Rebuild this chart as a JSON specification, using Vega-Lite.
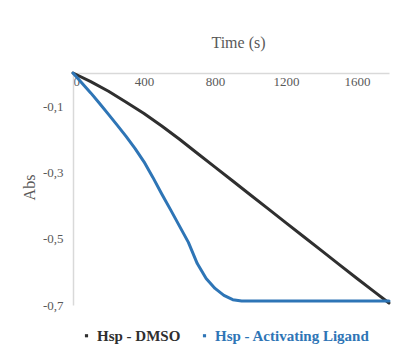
{
  "$schema": "https://vega.github.io/schema/vega-lite/v6.json",
  "width": 316,
  "height": 232,
  "autosize": "none",
  "padding": {"left": 73, "top": 73, "right": 21, "bottom": 53},
  "background": "white",
  "config": {"view": {"stroke": null}, "font": "Liberation Serif"},
  "data": {"values": [
    {"t": 0, "abs": 0, "s": "Hsp - DMSO"},
    {"t": 100, "abs": -0.026, "s": "Hsp - DMSO"},
    {"t": 200, "abs": -0.055, "s": "Hsp - DMSO"},
    {"t": 300, "abs": -0.088, "s": "Hsp - DMSO"},
    {"t": 400, "abs": -0.122, "s": "Hsp - DMSO"},
    {"t": 500, "abs": -0.160, "s": "Hsp - DMSO"},
    {"t": 600, "abs": -0.200, "s": "Hsp - DMSO"},
    {"t": 700, "abs": -0.242, "s": "Hsp - DMSO"},
    {"t": 800, "abs": -0.284, "s": "Hsp - DMSO"},
    {"t": 900, "abs": -0.326, "s": "Hsp - DMSO"},
    {"t": 1000, "abs": -0.368, "s": "Hsp - DMSO"},
    {"t": 1100, "abs": -0.410, "s": "Hsp - DMSO"},
    {"t": 1200, "abs": -0.452, "s": "Hsp - DMSO"},
    {"t": 1300, "abs": -0.494, "s": "Hsp - DMSO"},
    {"t": 1400, "abs": -0.536, "s": "Hsp - DMSO"},
    {"t": 1500, "abs": -0.578, "s": "Hsp - DMSO"},
    {"t": 1600, "abs": -0.620, "s": "Hsp - DMSO"},
    {"t": 1700, "abs": -0.661, "s": "Hsp - DMSO"},
    {"t": 1780, "abs": -0.694, "s": "Hsp - DMSO"},
    {"t": 0, "abs": 0, "s": "Hsp - Activating Ligand"},
    {"t": 50, "abs": -0.030, "s": "Hsp - Activating Ligand"},
    {"t": 100, "abs": -0.060, "s": "Hsp - Activating Ligand"},
    {"t": 150, "abs": -0.092, "s": "Hsp - Activating Ligand"},
    {"t": 200, "abs": -0.125, "s": "Hsp - Activating Ligand"},
    {"t": 250, "abs": -0.158, "s": "Hsp - Activating Ligand"},
    {"t": 300, "abs": -0.192, "s": "Hsp - Activating Ligand"},
    {"t": 350, "abs": -0.228, "s": "Hsp - Activating Ligand"},
    {"t": 400, "abs": -0.268, "s": "Hsp - Activating Ligand"},
    {"t": 450, "abs": -0.315, "s": "Hsp - Activating Ligand"},
    {"t": 500, "abs": -0.365, "s": "Hsp - Activating Ligand"},
    {"t": 550, "abs": -0.413, "s": "Hsp - Activating Ligand"},
    {"t": 600, "abs": -0.462, "s": "Hsp - Activating Ligand"},
    {"t": 650, "abs": -0.511, "s": "Hsp - Activating Ligand"},
    {"t": 700, "abs": -0.575, "s": "Hsp - Activating Ligand"},
    {"t": 750, "abs": -0.620, "s": "Hsp - Activating Ligand"},
    {"t": 800, "abs": -0.650, "s": "Hsp - Activating Ligand"},
    {"t": 850, "abs": -0.671, "s": "Hsp - Activating Ligand"},
    {"t": 900, "abs": -0.684, "s": "Hsp - Activating Ligand"},
    {"t": 950, "abs": -0.688, "s": "Hsp - Activating Ligand"},
    {"t": 1000, "abs": -0.688, "s": "Hsp - Activating Ligand"},
    {"t": 1200, "abs": -0.688, "s": "Hsp - Activating Ligand"},
    {"t": 1400, "abs": -0.688, "s": "Hsp - Activating Ligand"},
    {"t": 1600, "abs": -0.688, "s": "Hsp - Activating Ligand"},
    {"t": 1780, "abs": -0.688, "s": "Hsp - Activating Ligand"}
  ]},
  "mark": {"type": "line", "strokeWidth": 3, "strokeCap": "round", "strokeJoin": "round", "clip": false},
  "encoding": {
    "x": {
      "field": "t", "type": "quantitative",
      "scale": {"domain": [0, 1780], "nice": false, "zero": false},
      "axis": {
        "orient": "top", "title": "Time (s)", "values": [0, 400, 800, 1200, 1600],
        "format": "d",
        "grid": false, "ticks": false, "tickSize": 0,
        "domainColor": "#d9d9d9", "domainWidth": 1.5,
        "labelPadding": -8, "labelBaseline": "middle", "labelFontSize": 13,
        "labelColor": "#595959", "labelFont": "Liberation Serif",
        "titleFont": "Liberation Serif", "titleFontSize": 16, "titleFontWeight": "normal",
        "titleColor": "#595959", "titleY": -31, "titleX": 165, "titleBaseline": "middle"
      }
    },
    "y": {
      "field": "abs", "type": "quantitative",
      "scale": {"domain": [-0.7, 0], "nice": false, "zero": false},
      "axis": {
        "title": "Abs", "values": [-0.1, -0.3, -0.5, -0.7],
        "labelExpr": "replace(replace(format(datum.value, '.1f'), '.', ','), '\u2212', '-')",
        "grid": false, "ticks": false, "tickSize": 0,
        "domainColor": "#d9d9d9", "domainWidth": 1.5,
        "labelPadding": 10, "labelFontSize": 13, "labelColor": "#595959",
        "labelFont": "Liberation Serif",
        "titleFont": "Liberation Serif", "titleFontSize": 16, "titleFontWeight": "normal",
        "titleColor": "#595959", "titleX": -44, "titleY": 114, "titleBaseline": "middle"
      }
    },
    "color": {
      "field": "s", "type": "nominal",
      "scale": {"domain": ["Hsp - DMSO", "Hsp - Activating Ligand"], "range": ["#2f2f2f", "#2e75b6"]},
      "legend": {
        "title": null, "orient": "none", "direction": "horizontal",
        "legendX": 6, "legendY": 255,
        "symbolType": "square", "symbolSize": 10, "symbolStrokeWidth": 0,
        "labelFont": "Liberation Serif", "labelFontSize": 15, "labelFontWeight": "bold",
        "labelOffset": 3, "columnPadding": 16,
        "encode": {
          "symbols": {"update": {"fill": {"scale": "color", "field": "value"}, "stroke": {"value": "transparent"}}},
          "labels": {"update": {"fill": {"scale": "color", "field": "value"}}}
        }
      }
    }
  }
}
